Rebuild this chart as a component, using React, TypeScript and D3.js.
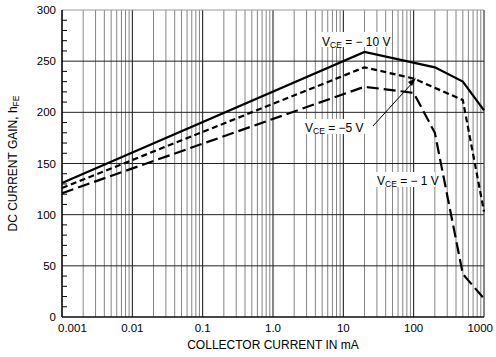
import React from "react";
import * as d3 from "d3";

const W = 496;
const H = 357;

const yTicks = [0, 50, 100, 150, 200, 250, 300];
const xTickValues = [0.001, 0.01, 0.1, 1, 10, 100, 1000];
const xTickLabels = ["0.001", "0.01", "0.1", "1.0", "10", "100", "1000"];

const current10 = [0.001, 20, 200, 500, 1000];
const gain10 = [131, 259, 244, 230, 202];
const current5 = [0.001, 20, 100, 500, 1000];
const gain5 = [126, 244, 233, 212, 103];
const current1 = [0.001, 20, 100, 200, 500, 1000];
const gain1 = [121, 225, 219, 180, 42, 18];

const seriesLabels = ["= \u2212 10 V", "= \u22125 V", "= \u2212 1 V"];

export default function App() {
  const x = d3.scaleLog().domain([0.001, 1000]).range([62, 484]);
  const y = d3.scaleLinear().domain([0, 300]).range([317, 10]);

  const line = d3
    .line<[number, number]>()
    .x((d) => x(d[0]))
    .y((d) => y(d[1]));

  const zip = (a: number[], b: number[]) => a.map((v, i) => [v, b[i]] as [number, number]);

  const vlines: { v: number; major: boolean }[] = [];
  for (let e = -3; e <= 2; e++) {
    for (let k = 1; k <= 9; k++) {
      vlines.push({ v: k * Math.pow(10, e), major: k === 1 });
    }
  }
  vlines.push({ v: 1000, major: true });

  const minorY: number[] = d3.range(0, 301, 10).filter((v) => v % 50 !== 0);

  const font = "'Liberation Sans', Arial, Helvetica, sans-serif";

  const Lbl = ({ xx, yy, rest }: { xx: number; yy: number; rest: string }) => (
    <text x={xx} y={yy} fontFamily={font} fontSize={12} fill="#000">
      V
      <tspan fontSize={8.5} dy={2}>CE</tspan>
      <tspan dy={-2}> {rest}</tspan>
    </text>
  );

  return (
    <div style={{ position: "absolute", left: 0, top: 0 }}>
      <svg width={W} height={H} style={{ display: "block", background: "#fff" }}>
        {/* vertical grid */}
        {vlines.map((l, i) => (
          <line
            key={"v" + i}
            x1={x(l.v)}
            x2={x(l.v)}
            y1={y(0)}
            y2={y(300)}
            stroke={l.major ? "#111" : "#777"}
            strokeWidth={l.major ? 1 : 0.9}
          />
        ))}
        {/* horizontal grid */}
        {yTicks.map((t) => (
          <line
            key={"h" + t}
            x1={x(0.001)}
            x2={x(1000)}
            y1={y(t)}
            y2={y(t)}
            stroke={t === 300 ? "#999" : "#222"}
            strokeWidth={1}
          />
        ))}
        {/* minor y ticks */}
        {minorY.map((t) => (
          <line
            key={"m" + t}
            x1={x(0.001)}
            x2={x(0.001) + 5}
            y1={y(t)}
            y2={y(t)}
            stroke="#000"
            strokeWidth={1}
          />
        ))}
        {/* axes */}
        <line x1={x(0.001)} x2={x(0.001)} y1={y(0)} y2={y(300)} stroke="#000" strokeWidth={1.2} />
        <line x1={x(0.001)} x2={x(1000)} y1={y(0)} y2={y(0)} stroke="#000" strokeWidth={1.2} />

        {/* y tick labels */}
        {yTicks.map((t) => (
          <text
            key={"yl" + t}
            x={56}
            y={y(t) + 4}
            textAnchor="end"
            fontFamily={font}
            fontSize={11.5}
            fill="#000"
          >
            {t}
          </text>
        ))}
        {/* x tick labels */}
        {xTickValues.map((v, i) => {
          let xx = x(v);
          let anchor: "start" | "middle" | "end" = "middle";
          if (i === 0) {
            xx = xx - 4;
            anchor = "start";
          } else if (i === xTickValues.length - 1) {
            xx = xx + 9;
            anchor = "end";
          }
          return (
            <text
              key={"xl" + i}
              x={xx}
              y={332}
              textAnchor={anchor}
              fontFamily={font}
              fontSize={11.5}
              fill="#000"
            >
              {xTickLabels[i]}
            </text>
          );
        })}

        {/* axis titles */}
        <text x={273} y={349} textAnchor="middle" fontFamily={font} fontSize={12} fill="#000">
          COLLECTOR CURRENT IN mA
        </text>
        <text
          transform={`translate(17, ${(y(0) + y(300)) / 2}) rotate(-90)`}
          textAnchor="middle"
          fontFamily={font}
          fontSize={12}
          fill="#000"
        >
          DC CURRENT GAIN, h
          <tspan fontSize={8.5} dy={2}>FE</tspan>
        </text>

        {/* curves */}
        <path d={line(zip(current10, gain10)) || ""} fill="none" stroke="#000" strokeWidth={2.2} />
        <path
          d={line(zip(current5, gain5)) || ""}
          fill="none"
          stroke="#000"
          strokeWidth={2.2}
          strokeDasharray="6 3.5"
        />
        <path
          d={line(zip(current1, gain1)) || ""}
          fill="none"
          stroke="#000"
          strokeWidth={2.2}
          strokeDasharray="12 5"
        />

        {/* labels */}
        <rect x={320} y={32} width={66} height={15} fill="#fff" />
        <Lbl xx={322} yy={46} rest={seriesLabels[0]} />
        <rect x={303} y={119} width={70} height={15} fill="#fff" />
        <Lbl xx={305} yy={132} rest={seriesLabels[1]} />
        <rect x={375} y={172} width={60} height={15} fill="#fff" />
        <Lbl xx={377} yy={185} rest={seriesLabels[2]} />

        {/* leader for -5 V */}
        <line x1={373} y1={126} x2={414} y2={81} stroke="#000" strokeWidth={1} />
        <path d="M416,78 L408,82 L412,86 Z" fill="#000" />
      </svg>
    </div>
  );
}
